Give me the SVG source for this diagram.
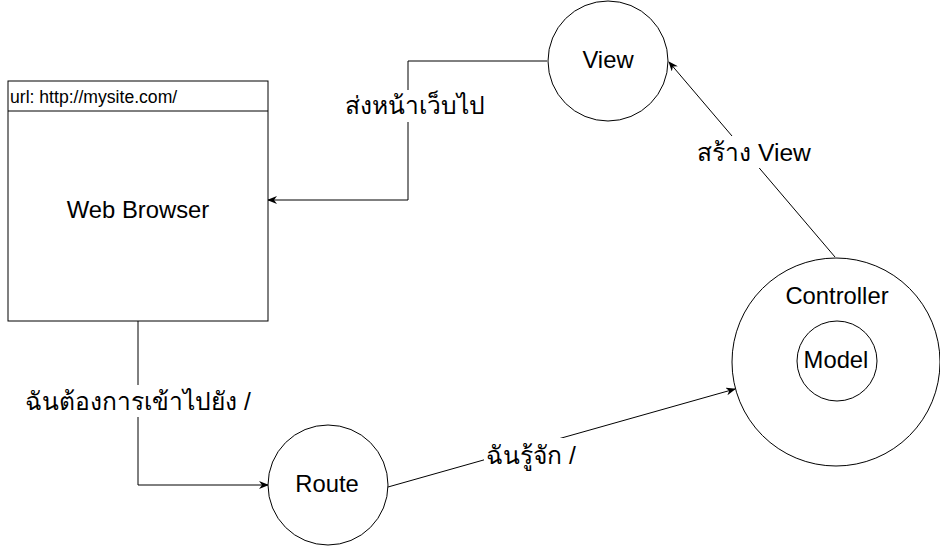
<svg xmlns="http://www.w3.org/2000/svg" width="940" height="546" viewBox="0 0 940 546">
<style>
.n{fill:#fff;stroke:#000;stroke-width:1}
.t{font-family:"Liberation Sans",Arial,sans-serif;font-size:23.8px;fill:#000;text-anchor:middle}
.th{font-size:24.6px}
.u{font-family:"Liberation Sans",Arial,sans-serif;font-size:17.6px;fill:#000}
.c{fill:none;stroke:#000;stroke-width:1}
.lb{fill:#fff;stroke:none}
</style>
<defs>
<marker id="a" markerWidth="10" markerHeight="8" refX="9" refY="4" orient="auto" markerUnits="userSpaceOnUse">
<path d="M0,0 L10,4 L0,8 L3,4 z" fill="#000"/>
</marker>
</defs>
<rect width="940" height="546" fill="#fff"/>
<g id="connectors">
<polyline class="c" points="547,61 408,61 408,200 268,200" marker-end="url(#a)"/>
<polyline class="c" points="138,321 138,485 268,485" marker-end="url(#a)"/>
<line class="c" x1="388" y1="487" x2="735" y2="389" marker-end="url(#a)"/>
<line class="c" x1="835" y1="257" x2="669" y2="62" marker-end="url(#a)"/>
<rect class="lb" x="341" y="90" width="148" height="32"/>
<text class="t th" x="415" y="114">ส่งหน้าเว็บไป</text>
<rect class="lb" x="24" y="385" width="228" height="32"/>
<text class="t th" x="138" y="410">ฉันต้องการเข้าไปยัง /</text>
<rect class="lb" x="484" y="438" width="96" height="32"/>
<text class="t th" x="531" y="464">ฉันรู้จัก /</text>
<rect class="lb" x="694" y="136" width="120" height="32"/>
<text class="t th" x="754" y="161">สร้าง View</text>
</g>
<g id="browser">
<rect class="n" x="8" y="81" width="260" height="240"/>
<line class="c" x1="8" y1="111" x2="268" y2="111"/>
<text class="u" x="10" y="103">url: http://mysite.com/</text>
<text class="t" x="138" y="218">Web Browser</text>
</g>
<g id="view">
<circle class="n" cx="608" cy="61" r="60"/>
<text class="t" x="608" y="68">View</text>
</g>
<g id="controller">
<circle class="n" cx="836" cy="362" r="104"/>
<text class="t" x="837" y="304">Controller</text>
</g>
<g id="model">
<circle class="n" cx="837" cy="361" r="40"/>
<text class="t" x="836" y="368">Model</text>
</g>
<g id="route">
<circle class="n" cx="328" cy="485" r="60"/>
<text class="t" x="327" y="492">Route</text>
</g>
</svg>
